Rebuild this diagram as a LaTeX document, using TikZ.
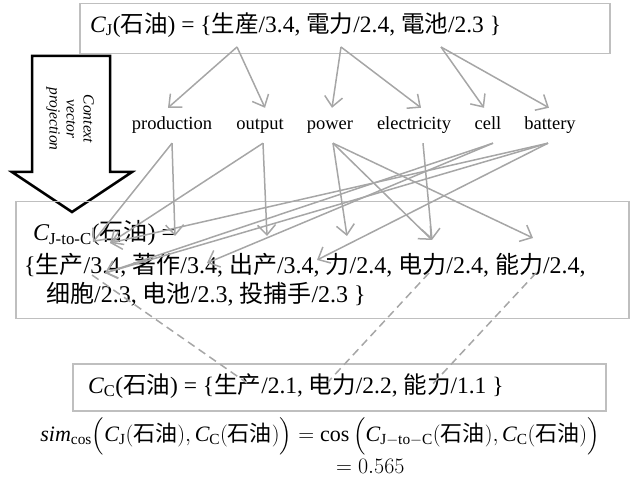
\RequirePackage{fix-cm}
\documentclass[tikz,border=0pt]{standalone}
\usepackage{amsmath}
\usepackage{fontspec}
\setmainfont{Liberation Serif}
\newfontfamily\cjk{Noto Sans CJK SC}
\newfontfamily\cjkjp{Noto Sans CJK JP}
\usetikzlibrary{arrows.meta}
\definecolor{boxgray}{HTML}{BFBFBF}
\definecolor{linegray}{HTML}{A6A6A6}
\tikzset{
  boxst/.style={draw=boxgray, line width=1.5pt, inner sep=0pt, anchor=north west},
  bigtext/.style={anchor=west, inner sep=0pt, font=\fontsize{23.5}{26}\selectfont},
  midtext/.style={anchor=west, inner sep=0pt, font=\fontsize{24}{26}\selectfont},
  word/.style={font=\fontsize{18.5}{20}\selectfont, text height=13pt, text depth=4pt, inner ysep=9pt, inner xsep=0pt},
  conn/.style={draw=linegray, line width=1.5pt, -{Straight Barb[length=10pt,width=18pt]}},
  dconn/.style={draw=linegray, line width=1.5pt, dash pattern=on 8pt off 5pt},
  bigarrow/.style={draw=black, line width=2.5pt, fill=white, line join=miter},
  formula/.style={font=\fontsize{22}{26}\selectfont, inner sep=0pt},
}
\begin{document}
\begin{tikzpicture}[x=1pt, y=-1pt]
\useasboundingbox (0,0) rectangle (632,486);
% block arrow
\draw[bigarrow] (32,56) -- (32,172) -- (12,172) -- (72,212) -- (132,172) -- (110,172) -- (110,56) -- cycle;
\node[rotate=-90, align=center, font=\fontsize{15.5}{17}\selectfont\itshape] (ctx) at (70,119) {Context\\vector\\projection};
% boxes
\node[boxst, minimum width=530pt, minimum height=50pt] (topbox) at (79,3) {};
\node[boxst, minimum width=613pt, minimum height=117pt] (jcbox) at (15,201) {};
\node[boxst, minimum width=533pt, minimum height=47pt] (cbox) at (72,363) {};
% texts
\node[bigtext] (cj) at (90,25) {$\mathit{C}_{\mathrm{J}}$({\cjkjp 石油}) = \{{\cjkjp 生産}/3.4, {\cjkjp 電力}/2.4, {\cjkjp 電池}/2.3 \}};
\node[midtext] (l1) at (33,233) {$\mathit{C}_{\text{J-to-C}}$({\cjk 石油}) =};
\node[midtext] (l2) at (24,265) {\{{\cjk 生产}/3.4, {\cjk 著作}/3.4, {\cjk 出产}/3.4, {\cjk 力}/2.4, {\cjk 电力}/2.4, {\cjk 能力}/2.4,};
\node[midtext] (l3) at (46,294) {{\cjk 细胞}/2.3, {\cjk 电池}/2.3, {\cjk 投捕手}/2.3 \}};
\node[bigtext] (cc) at (88,386) {$\mathit{C}_{\mathrm{C}}$({\cjk 石油}) = \{{\cjk 生产}/2.1, {\cjk 电力}/2.2, {\cjk 能力}/1.1 \}};
\node[formula] (sim) at (320,436) {$\mathit{sim}_{\mathrm{cos}}\Big(\mathit{C}_{\mathrm{J}}(\text{\cjk 石油}), \mathit{C}_{\mathrm{C}}(\text{\cjk 石油})\Big) = \cos\Big(\mathit{C}_{\mathrm{J{-}to{-}C}}(\text{\cjk 石油}), \mathit{C}_{\mathrm{C}}(\text{\cjk 石油})\Big)$};
\node[formula, anchor=west] (val) at (336,466) {$= 0.565$};
% words
\node[word] (w1) at (172,125.5) {production};
\node[word] (w2) at (260,125.5) {output};
\node[word] (w3) at (330,125.5) {power};
\node[word] (w4) at (414,125.5) {electricity};
\node[word] (w5) at (488,125.5) {cell};
\node[word] (w6) at (550,125.5) {battery};
% source points in top text
\coordinate (s1) at (237,47);
\coordinate (s2) at (341,47);
\coordinate (s3) at (441,47);
% target points in J-to-C box
\coordinate (a1) at (93,242);
\coordinate (a2) at (175,236);
\coordinate (a3) at (110,243);
\coordinate (a4) at (267,236);
\coordinate (a5) at (347,236);
\coordinate (a6) at (432,240);
\coordinate (a7) at (533,238);
\coordinate (b1) at (105,273);
\coordinate (b2) at (207,263);
\coordinate (b3) at (317,260);
% top arrows
\draw[conn] (s1) -- ([xshift=-4pt]w1.north);
\draw[conn] (s1) -- ([xshift=5pt]w2.north);
\draw[conn] (s2) -- ([xshift=2pt]w3.north);
\draw[conn] (s2) -- ([xshift=7pt]w4.north);
\draw[conn] (s3) -- ([xshift=-4pt]w5.north);
\draw[conn] (s3) -- ([xshift=-1pt]w6.north);
% lower arrows
\draw[conn] (w1.south) -- (a1);
\draw[conn] (w1.south) -- (a2);
\draw[conn] ([xshift=3pt]w2.south) -- (a3);
\draw[conn] ([xshift=3pt]w2.south) -- (a4);
\draw[conn] ([xshift=3pt]w3.south) -- (a5);
\draw[conn] ([xshift=3pt]w3.south) -- (a6);
\draw[conn] ([xshift=3pt]w3.south) -- (a7);
\draw[conn] ([xshift=9pt]w4.south) -- (a6);
\draw[conn] ([xshift=5pt]w5.south) -- (b1);
\draw[conn] ([xshift=5pt]w5.south) -- (b2);
\draw[conn] ([xshift=-2pt]w6.south) -- (a3);
\draw[conn] ([xshift=-2pt]w6.south) -- (b1);
\draw[conn] ([xshift=-2pt]w6.south) -- (b3);
% dashed links
\coordinate (d1) at (92,275);
\coordinate (d2) at (429,273);
\coordinate (d3) at (536,273);
\coordinate (e1) at (247,383);
\coordinate (e2) at (328,382);
\coordinate (e3) at (430,387);
\draw[dconn] (d1) -- (e1);
\draw[dconn] (d2) -- (e2);
\draw[dconn] (d3) -- (e3);
\end{tikzpicture}
\end{document}
